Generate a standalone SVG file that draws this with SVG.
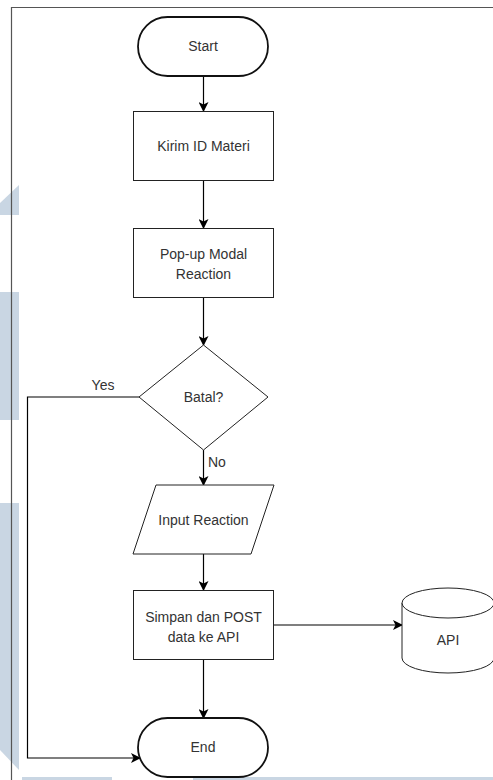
<svg xmlns="http://www.w3.org/2000/svg" width="493" height="780" viewBox="0 0 493 780">
  <style>
    .bg { fill: #ffffff; }
    .mark { fill: #c9d6e3; }
    .frame { fill: none; stroke: #555555; stroke-width: 1.2; }
    .shape { fill: #ffffff; stroke: #222222; stroke-width: 1; }
    .term { fill: #ffffff; stroke: #111111; stroke-width: 1.8; }
    .edge { fill: none; stroke: #000000; stroke-width: 1.2; }
    .label { font-family: "Liberation Sans", Arial, sans-serif; font-size: 14px; fill: #333333; text-anchor: middle; }
    .elabel { font-family: "Liberation Sans", Arial, sans-serif; font-size: 14px; fill: #333333; }
  </style>
  <defs>
    <marker id="arrow" viewBox="0 0 10 10" refX="9" refY="5" markerWidth="10" markerHeight="10" markerUnits="userSpaceOnUse" orient="auto">
      <path d="M0,0 L10,5 L0,10 L2.5,5 Z" fill="#000000"/>
    </marker>
  </defs>

  <rect class="bg" x="0" y="0" width="493" height="780"/>

  <!-- background marks -->
  <g id="backdrop">
    <polygon class="mark" points="0,203 19,185 19,215 0,215"/>
    <rect class="mark" x="0" y="292" width="19" height="128"/>
    <polygon class="mark" points="0,503 19,503 19,770 0,750"/>
    <rect class="mark" x="22" y="777" width="90" height="3"/>
    <rect class="mark" x="193" y="777" width="300" height="3"/>
  </g>

  <!-- page frame -->
  <path class="frame" d="M11.5,780 L11.5,7.5 L493,7.5"/>

  <!-- connectors -->
  <g id="connectors">
    <line class="edge" x1="203.5" y1="76" x2="203.5" y2="111" marker-end="url(#arrow)"/>
    <line class="edge" x1="203.5" y1="181" x2="203.5" y2="228" marker-end="url(#arrow)"/>
    <line class="edge" x1="203.5" y1="298" x2="203.5" y2="345" marker-end="url(#arrow)"/>
    <polyline class="edge" points="139,397 27.5,397 27.5,758 140,758" marker-end="url(#arrow)"/>
    <text class="elabel" x="103" y="390" text-anchor="middle">Yes</text>
    <line class="edge" x1="203.5" y1="450" x2="203.5" y2="485" marker-end="url(#arrow)"/>
    <text class="elabel" x="208" y="467">No</text>
    <line class="edge" x1="203.5" y1="554" x2="203.5" y2="590" marker-end="url(#arrow)"/>
    <line class="edge" x1="274" y1="625" x2="402" y2="625" marker-end="url(#arrow)"/>
    <line class="edge" x1="203.5" y1="660" x2="203.5" y2="718" marker-end="url(#arrow)"/>
  </g>

  <!-- nodes -->
  <g id="start">
    <rect class="term" x="138" y="17" width="130" height="59" rx="29.5" ry="29.5"/>
    <text class="label" x="203" y="51">Start</text>
  </g>

  <g id="kirim-id">
    <rect class="shape" x="133.5" y="111.5" width="140" height="69"/>
    <text class="label" x="203.5" y="151">Kirim ID Materi</text>
  </g>

  <g id="popup-modal">
    <rect class="shape" x="133.5" y="228.5" width="140" height="69"/>
    <text class="label" x="203.5" y="259">Pop-up Modal</text>
    <text class="label" x="203.5" y="279">Reaction</text>
  </g>

  <g id="batal">
    <polygon class="shape" points="203.5,345 268,397 203.5,450 139,397"/>
    <text class="label" x="203.5" y="402">Batal?</text>
  </g>

  <g id="input-reaction">
    <polygon class="shape" points="156,485 274,485 251,554 133,554"/>
    <text class="label" x="203.5" y="525">Input Reaction</text>
  </g>

  <g id="simpan">
    <rect class="shape" x="133.5" y="590.5" width="140" height="69"/>
    <text class="label" x="203.5" y="622">Simpan dan POST</text>
    <text class="label" x="203.5" y="642">data ke API</text>
  </g>

  <g id="api">
    <path class="shape" d="M402,603 L402,658 A46,15 0 0 0 494,658 L494,603 A46,15 0 0 0 402,603 Z"/>
    <path class="shape" d="M402,603 A46,15 0 0 0 494,603" fill="none"/>
    <text class="label" x="448" y="645">API</text>
  </g>

  <g id="end">
    <rect class="term" x="138" y="718" width="130" height="59" rx="29.5" ry="29.5"/>
    <text class="label" x="203" y="752">End</text>
  </g>
</svg>
